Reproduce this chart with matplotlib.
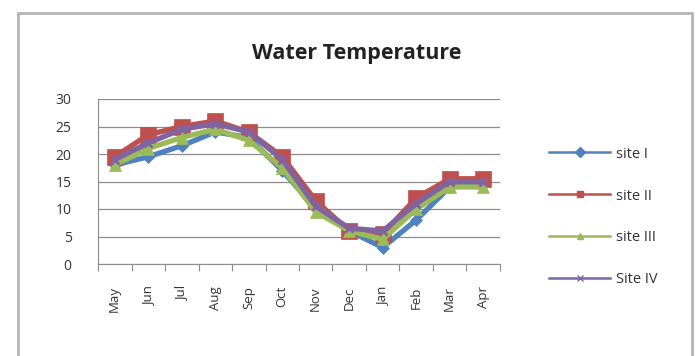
import matplotlib.pyplot as plt
from matplotlib.patches import Rectangle
from matplotlib.lines import Line2D

plt.rcParams.update({"font.family": ["Open Sans", "DejaVu Sans"], "font.size": 8})

months = ["May", "Jun", "Jul", "Aug", "Sep", "Oct", "Nov", "Dec", "Jan", "Feb", "Mar", "Apr"]
site_1 = [18, 19.5, 21.5, 24, 23, 17, 10, 6, 3, 8, 14, 14.5]
site_2 = [19.5, 23.5, 25, 26, 24, 19.5, 11.5, 6, 5.5, 12, 15.5, 15.5]
site_3 = [18, 21, 23, 24.5, 22.5, 17.5, 9.5, 6, 4.5, 10, 14, 14]
site_4 = [19, 22, 24.5, 25.5, 24, 19, 10.5, 6.5, 6, 11, 15, 15]
names = ["site I", "site II", "site III", "Site IV"]

styles = [
    ("#4F81BD", "D", 6.5),
    ("#C0504D", "s", 11.5),
    ("#9BBB59", "^", 8.5),
    ("#8064A2", "x", 6),
]

fig = plt.figure(figsize=(6.96, 3.56), dpi=100)
W, H = 696, 356

# chart frame
fig.patches.append(Rectangle((18 / W, -0.05), (692 - 18) / W, 1.05 - 13 / H,
                             transform=fig.transFigure, fill=False,
                             edgecolor="#b4b4b4", linewidth=2))

ax = fig.add_axes([98 / W, 1 - 264 / H, (500 - 98) / W, (264 - 99) / H])
x = list(range(len(months)))
order = [1, 0, 2, 3]
series = [site_1, site_2, site_3, site_4]
for i in order:
    c, m, ms = styles[i]
    ax.plot(x, series[i], color=c, marker=m, markersize=ms, linewidth=3.8,
            markeredgewidth=2 if m == "x" else 0.5, markeredgecolor=c, zorder=3 + i)

ax.set_xlim(-0.5, 11.5)
ax.set_ylim(0, 30)
ax.set_yticks(range(0, 31, 5))
ax.yaxis.grid(True, color="#8c8c8c", linewidth=0.9)
ax.set_axisbelow(True)
# tick marks sit between categories, labels at the category centres
ax.set_xticks([v - 0.5 for v in range(13)], minor=False)
ax.set_xticklabels([])
ax.set_xticks(x, minor=True)
ax.set_xticklabels(months, minor=True, rotation=90, fontsize=9.5, color="#333333")
ax.tick_params(axis="x", which="major", length=5, direction="out", color="#8c8c8c")
ax.tick_params(axis="x", which="minor", length=0, pad=16)
ax.tick_params(axis="y", length=0, labelsize=10, colors="#333333", pad=19)
for s in ["top", "right"]:
    ax.spines[s].set_visible(False)
ax.spines["left"].set_color("#8c8c8c")
ax.spines["bottom"].set_color("#8c8c8c")

fig.text(357 / W, 1 - 54 / H, "Water Temperature", ha="center", va="center",
         fontsize=15.5, fontweight="bold", color="#222222")

handles = [Line2D([], [], color=c, marker=m, markersize=5 if m != "x" else 4,
                  linewidth=1.8, markeredgecolor=c) for c, m, ms in styles]
fig.legend(handles, names, loc="center left", bbox_to_anchor=(536 / W, 1 - 217 / H),
           frameon=False, handlelength=4.2, handletextpad=0.4, labelspacing=1.85,
           fontsize=10.5, labelcolor="#333333")

fig.savefig("out.png", dpi=100)
